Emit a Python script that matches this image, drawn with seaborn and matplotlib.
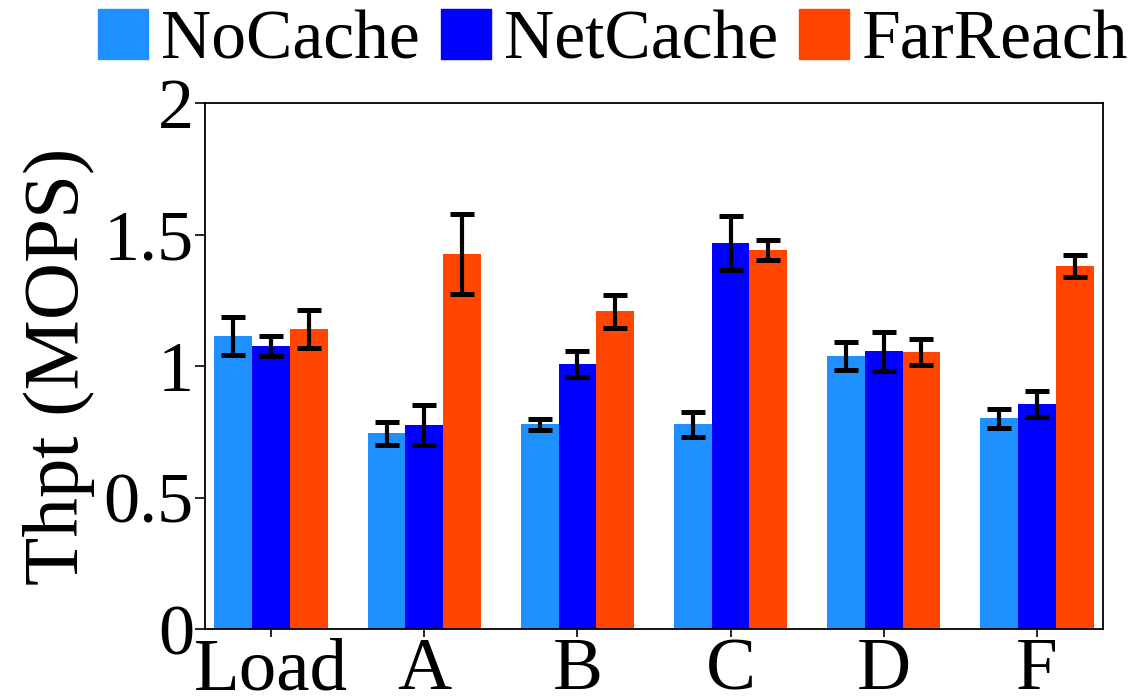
import matplotlib
matplotlib.use("Agg")
import matplotlib.pyplot as plt
import seaborn as sns
import pandas as pd

workloads = ["Load", "A", "B", "C", "D", "F"]
methods = ["NoCache", "NetCache", "FarReach"]
nocache = [1.114, 0.745, 0.779, 0.779, 1.038, 0.802]
netcache = [1.076, 0.776, 1.008, 1.468, 1.057, 0.856]
farreach = [1.141, 1.426, 1.209, 1.441, 1.053, 1.380]
nocache_err = [0.073, 0.044, 0.021, 0.048, 0.053, 0.037]
netcache_err = [0.037, 0.075, 0.050, 0.103, 0.074, 0.048]
farreach_err = [0.072, 0.151, 0.063, 0.039, 0.050, 0.042]
colors = ["#1E90FF", "#0000FF", "#FF4500"]
yticks = [0, 0.5, 1, 1.5, 2]
ytick_labels = ["0", "0.5", "1", "1.5", "2"]

sns.set_style("ticks")
plt.rcParams["font.family"] = ["Liberation Serif", "DejaVu Serif"]
for k in ["text.color", "axes.labelcolor", "xtick.color", "ytick.color", "axes.edgecolor"]:
    plt.rcParams[k] = "black"

vals = [nocache, netcache, farreach]
errs = [nocache_err, netcache_err, farreach_err]
rows = []
for m, v, e in zip(methods, vals, errs):
    for w, vi, ei in zip(workloads, v, e):
        rows.append({"workload": w, "method": m, "thpt": vi, "err": ei})
df = pd.DataFrame(rows)

W, H = 1130, 698
fig = plt.figure(figsize=(W / 100, H / 100), dpi=100)
ax = fig.add_axes([205 / W, 1 - 629.3 / H, (1103 - 205) / W, (629.3 - 103) / H])
sns.barplot(data=df, x="workload", y="thpt", hue="method", order=workloads,
            hue_order=methods, palette=colors, errorbar=None, width=0.738,
            saturation=1, linewidth=0, ax=ax, legend=True)

for cont, e in zip(ax.containers, errs):
    bars = list(cont)
    xs = [b.get_x() + b.get_width() / 2 for b in bars]
    ys = [b.get_height() for b in bars]
    ax.errorbar(xs, ys, yerr=e, fmt="none", ecolor="black", elinewidth=3,
                capsize=8.5, capthick=3.6, zorder=5)

ax.set_ylim(0, 2)
ax.set_xlim(-0.431, 5.431)
ax.set_yticks(yticks)
ax.set_yticklabels(ytick_labels)
ax.set_xlabel("")
ax.set_ylabel("Thpt (MOPS)", fontsize=57, labelpad=6)
ax.tick_params(axis="y", labelsize=52, length=7, width=1.2, pad=1, color="black")
ax.tick_params(axis="x", labelsize=54, length=6, width=1.2, pad=0, color="black")
for s in ax.spines.values():
    s.set_visible(True)
    s.set_linewidth(1.3)
    s.set_color("black")

ax.legend_.remove()
handles = [plt.Rectangle((0, 0), 1, 1, color=c) for c in colors]
fig.legend(handles, methods, loc="upper left", bbox_to_anchor=(98 / W, 1 - 9 / H),
           ncol=3, frameon=False, fontsize=50, handlelength=0.72, handleheight=0.72,
           handletextpad=0.19, columnspacing=0.3, borderaxespad=0, borderpad=0)

fig.savefig("out.png", dpi=100)
